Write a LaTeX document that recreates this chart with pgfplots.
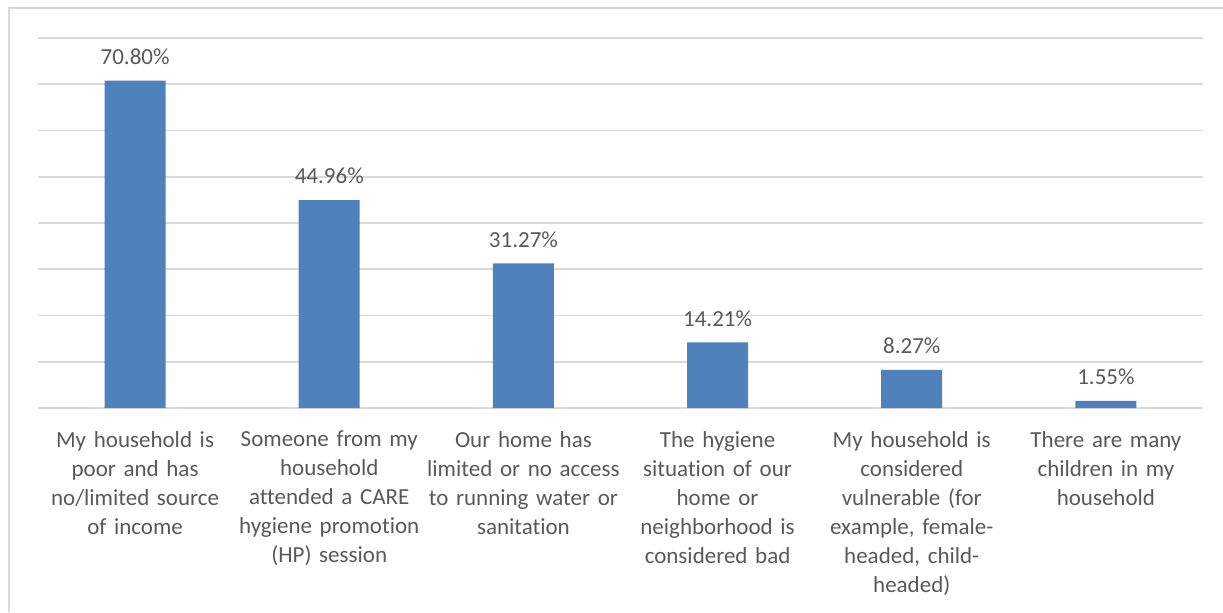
\documentclass[border=0pt]{standalone}
\usepackage{pgfplots}
\pgfplotsset{compat=1.18}
\usepackage{fontspec}
\setmainfont{Carlito}[Ligatures={NoCommon}]
\definecolor{barblue}{HTML}{4F81BD}
\definecolor{txtgrey}{HTML}{595959}
\definecolor{gridgrey}{HTML}{D9D9D9}
\begin{document}
\begin{tikzpicture}
\path[use as bounding box] (0,0) rectangle (611.5pt,306pt);
\draw[gridgrey, line width=0.8pt] (4.5pt,0) -- (4.5pt,302pt) -- (611.5pt,302pt);
\begin{axis}[
  at={(19pt,102pt)}, anchor=south west,
  scale only axis, width=582.5pt, height=185pt,
  xmin=-0.5, xmax=5.5, ymin=0, ymax=80,
  axis line style={draw=none},
  ytick={0,10,...,80}, yticklabels={},
  ymajorgrids, grid style={gridgrey, line width=0.8pt},
  major tick length=0pt,
  xtick=data,
  xticklabels={
    {My household is\\poor and has\\no/limited source\\of income},
    {Someone from my\\household\\attended a CARE\\hygiene promotion\\(HP) session},
    {Our home has\\limited or no access\\to running water or\\sanitation},
    {The hygiene\\situation of our\\home or\\neighborhood is\\considered bad},
    {My household is\\considered\\vulnerable (for\\example, female-\\headed, child-\\headed)},
    {There are many\\children in my\\household}},
  xticklabel style={align=center, text width=130pt, text=txtgrey,
    font=\fontsize{11.5}{14.5}\selectfont, anchor=north, yshift=-8pt},
  /pgf/number format/assume math mode=true,
  nodes near coords={\pgfmathprintnumber[fixed,fixed zerofill,precision=2,assume math mode=true]{\pgfplotspointmeta}\%},
  nodes near coords style={text=txtgrey, font=\fontsize{11.5}{14.5}\selectfont, anchor=south, yshift=4.5pt},
]
\addplot[ybar, bar width=30.5pt, fill=barblue, draw=none] coordinates {
  (0,70.80) (1,44.96) (2,31.27) (3,14.21) (4,8.27) (5,1.55)
};
\end{axis}
\end{tikzpicture}
\end{document}
